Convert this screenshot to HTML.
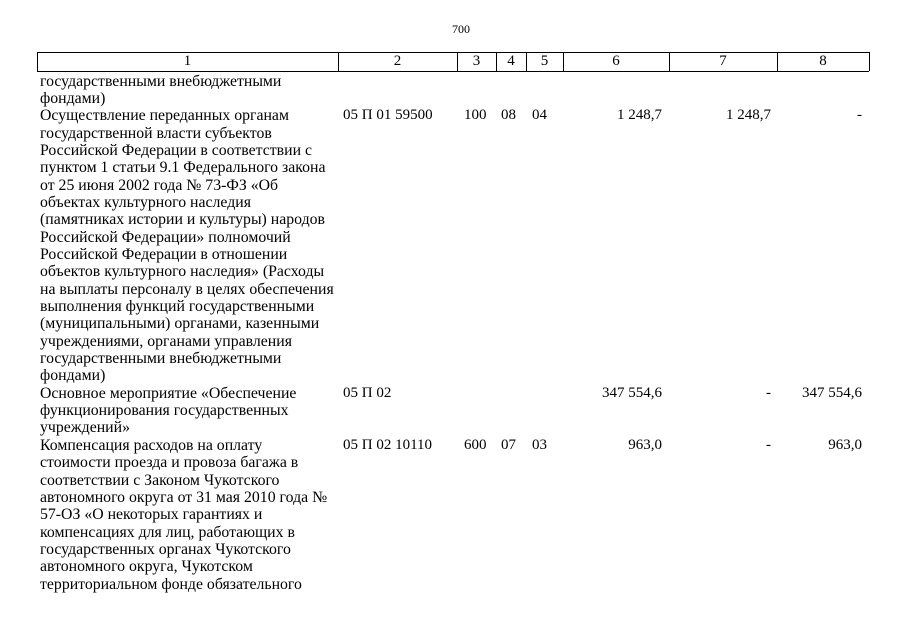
<!DOCTYPE html>
<html><head><meta charset="utf-8"><style>
html,body{margin:0;padding:0;background:#fff;}
body{width:905px;height:640px;position:relative;overflow:hidden;font-family:"Liberation Serif","DejaVu Serif",serif;font-size:15px;color:#000;}
.a{position:absolute;white-space:nowrap;line-height:17.35px;}
.r{text-align:right;}
.hdr{position:absolute;top:52px;height:18px;border-top:1px solid #000;border-bottom:1px solid #000;left:37px;width:832px;}
.v{position:absolute;top:52px;height:19px;border-left:1px solid #000;}
.h{position:absolute;top:52px;line-height:19px;text-align:center;font-size:15px;}
</style></head><body>
<div class="a" style="left:452px;top:21px;font-size:12px;">700</div>
<div class="hdr"></div>
<div class="v" style="left:37px"></div><div class="v" style="left:338px"></div><div class="v" style="left:457px"></div><div class="v" style="left:496px"></div><div class="v" style="left:526px"></div><div class="v" style="left:563px"></div><div class="v" style="left:669px"></div><div class="v" style="left:777px"></div><div class="v" style="left:869px"></div>
<div class="h" style="left:37px;width:301px">1</div>
<div class="h" style="left:338px;width:119px">2</div>
<div class="h" style="left:457px;width:39px">3</div>
<div class="h" style="left:496px;width:30px">4</div>
<div class="h" style="left:526px;width:37px">5</div>
<div class="h" style="left:563px;width:106px">6</div>
<div class="h" style="left:669px;width:108px">7</div>
<div class="h" style="left:777px;width:92px">8</div>

<div class="a" style="left:40px;top:72.6px;font-size:15.8px;">государственными внебюджетными<br>фондами)<br>Осуществление переданных органам<br>государственной власти субъектов<br>Российской Федерации в соответствии с<br>пунктом 1 статьи 9.1 Федерального закона<br>от 25 июня 2002 года № 73-ФЗ «Об<br>объектах культурного наследия<br>(памятниках истории и культуры) народов<br>Российской Федерации» полномочий<br>Российской Федерации в отношении<br>объектов культурного наследия» (Расходы<br>на выплаты персоналу в целях обеспечения<br>выполнения функций государственными<br>(муниципальными) органами, казенными<br>учреждениями, органами управления<br>государственными внебюджетными<br>фондами)<br>Основное мероприятие «Обеспечение<br>функционирования государственных<br>учреждений»<br>Компенсация расходов на оплату<br>стоимости проезда и провоза багажа в<br>соответствии с Законом Чукотского<br>автономного округа от 31 мая 2010 года №<br>57-ОЗ «О некоторых гарантиях и<br>компенсациях для лиц, работающих в<br>государственных органах Чукотского<br>автономного округа, Чукотском<br>территориальном фонде обязательного</div>

<div class="a" style="left:343px;top:107.3px;">05 П 01 59500</div>
<div class="a" style="left:464px;top:107.3px;">100</div>
<div class="a" style="left:501px;top:107.3px;">08</div>
<div class="a" style="left:532px;top:107.3px;">04</div>
<div class="a r" style="right:243px;top:107.3px;">1 248,7</div>
<div class="a r" style="right:134px;top:107.3px;">1 248,7</div>
<div class="a r" style="right:43px;top:107.3px;">-</div>

<div class="a" style="left:343px;top:384.9px;">05 П 02</div>
<div class="a r" style="right:243px;top:384.9px;">347 554,6</div>
<div class="a r" style="right:134px;top:384.9px;">-</div>
<div class="a r" style="right:43px;top:384.9px;">347 554,6</div>

<div class="a" style="left:343px;top:436.9px;">05 П 02 10110</div>
<div class="a" style="left:464px;top:436.9px;">600</div>
<div class="a" style="left:501px;top:436.9px;">07</div>
<div class="a" style="left:532px;top:436.9px;">03</div>
<div class="a r" style="right:243px;top:436.9px;">963,0</div>
<div class="a r" style="right:134px;top:436.9px;">-</div>
<div class="a r" style="right:43px;top:436.9px;">963,0</div>
</body></html>
